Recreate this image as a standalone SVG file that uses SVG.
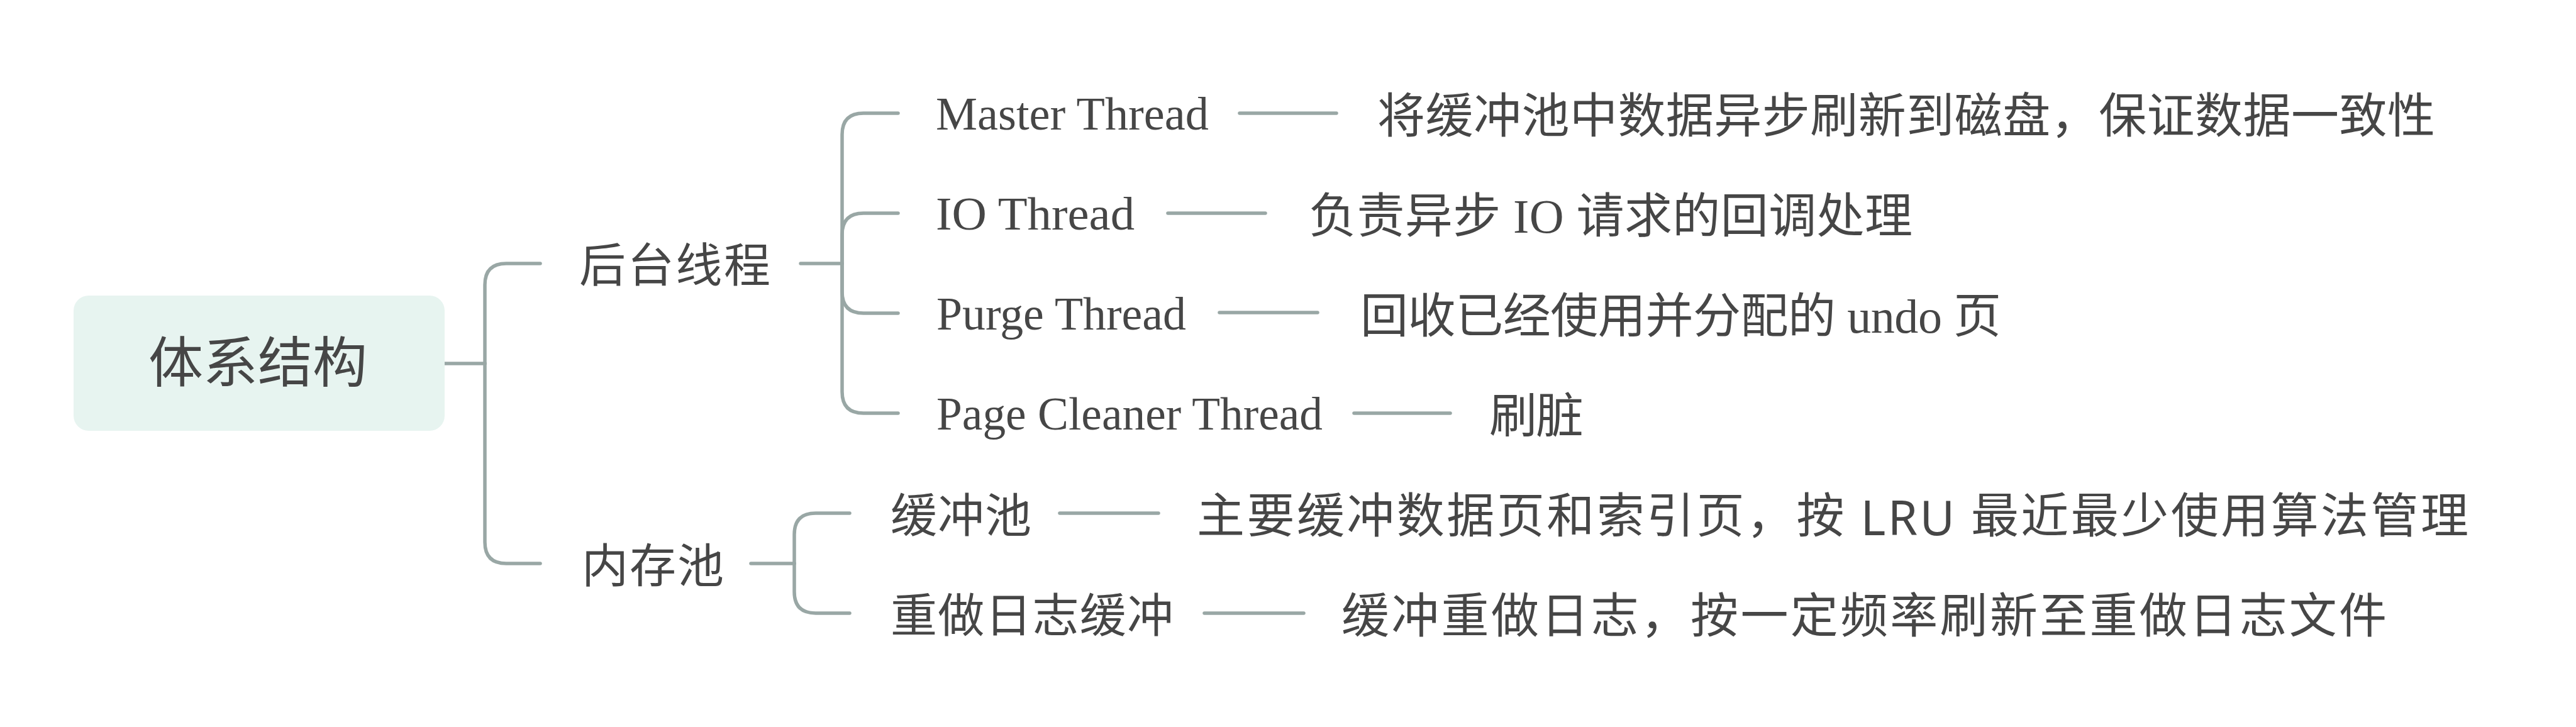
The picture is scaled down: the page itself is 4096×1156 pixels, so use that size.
<svg xmlns="http://www.w3.org/2000/svg" width="4096" height="1156" viewBox="0 0 4096 1156">
<style>
.ln{fill:none;stroke:#99A7A5;stroke-width:5.5;stroke-linecap:round}
.cj{font-family:"Liberation Serif","Noto Sans CJK SC",serif;fill:#464646;dominant-baseline:central}
.en{font-family:"Liberation Serif","Noto Sans CJK SC",serif;fill:#464646}
.sans{font-family:"Noto Sans","Noto Sans CJK SC",sans-serif}
</style>
<rect width="4096" height="1156" fill="#ffffff"/>
<g id="connectors">
<path class="ln" d="M707 578 H771"/>
<path class="ln" d="M771 578 V453 Q771 419 805 419 H859"/>
<path class="ln" d="M771 578 V862 Q771 896 805 896 H859"/>
<path class="ln" d="M1273 419 H1339"/>
<path class="ln" d="M1339 419 V214 Q1339 180 1373 180 H1428"/>
<path class="ln" d="M1339 419 V373 Q1339 339 1373 339 H1428"/>
<path class="ln" d="M1339 419 V464 Q1339 498 1373 498 H1428"/>
<path class="ln" d="M1339 419 V623 Q1339 657 1373 657 H1428"/>
<path class="ln" d="M1194 896 H1263"/>
<path class="ln" d="M1263 896 V850 Q1263 816 1297 816 H1351"/>
<path class="ln" d="M1263 896 V941 Q1263 975 1297 975 H1351"/>
<path class="ln" d="M1971 180 H2125"/>
<path class="ln" d="M1857 339 H2012"/>
<path class="ln" d="M1939 497 H2095"/>
<path class="ln" d="M2153 657 H2306"/>
<path class="ln" d="M1685 816 H1842"/>
<path class="ln" d="M1915 975 H2073"/>
</g>
<g id="root">
<rect x="117" y="470" width="590" height="215" rx="24" fill="#E7F4F0"/>
<text class="cj" x="410" y="578" font-size="87" text-anchor="middle">体系结构</text>
</g>
<g id="houtai">
<text class="cj" x="921" y="423" font-size="74" textLength="304" lengthAdjust="spacing">后台线程</text>
</g>
<g id="master">
<text class="en" x="1488" y="206" font-size="73" textLength="434" lengthAdjust="spacingAndGlyphs">Master Thread</text>
</g>
<g id="master-desc">
<text class="cj" x="2190" y="185" font-size="76" textLength="1682" lengthAdjust="spacing">将缓冲池中数据异步刷新到磁盘，保证数据一致性</text>
</g>
<g id="io">
<text class="en" x="1488" y="365" font-size="73" textLength="316" lengthAdjust="spacingAndGlyphs">IO Thread</text>
</g>
<g id="io-desc">
<text class="cj" x="2081" y="344" font-size="76" textLength="960" lengthAdjust="spacing">负责异步 IO 请求的回调处理</text>
</g>
<g id="purge">
<text class="en" x="1489" y="524" font-size="73" textLength="397" lengthAdjust="spacingAndGlyphs">Purge Thread</text>
</g>
<g id="purge-desc">
<text class="cj" x="2163" y="503" font-size="76" textLength="1019" lengthAdjust="spacing">回收已经使用并分配的 undo 页</text>
</g>
<g id="page">
<text class="en" x="1489" y="683" font-size="73" textLength="614" lengthAdjust="spacingAndGlyphs">Page Cleaner Thread</text>
</g>
<g id="page-desc">
<text class="cj" x="2368" y="662" font-size="76" textLength="150" lengthAdjust="spacing">刷脏</text>
</g>
<g id="neicun">
<text class="cj" x="925" y="901" font-size="74" textLength="226" lengthAdjust="spacing">内存池</text>
</g>
<g id="buffer">
<text class="cj" x="1416" y="821" font-size="74" textLength="224" lengthAdjust="spacing">缓冲池</text>
</g>
<g id="buffer-desc">
<text class="cj" x="1903" y="821" font-size="76" textLength="2022" lengthAdjust="spacing">主要缓冲数据页和索引页，按 <tspan class="sans">LRU</tspan> 最近最少使用算法管理</text>
</g>
<g id="redo">
<text class="cj" x="1416" y="980" font-size="74" textLength="450" lengthAdjust="spacing">重做日志缓冲</text>
</g>
<g id="redo-desc">
<text class="cj" x="2133" y="980" font-size="76" textLength="1662" lengthAdjust="spacing">缓冲重做日志，按一定频率刷新至重做日志文件</text>
</g>
</svg>
